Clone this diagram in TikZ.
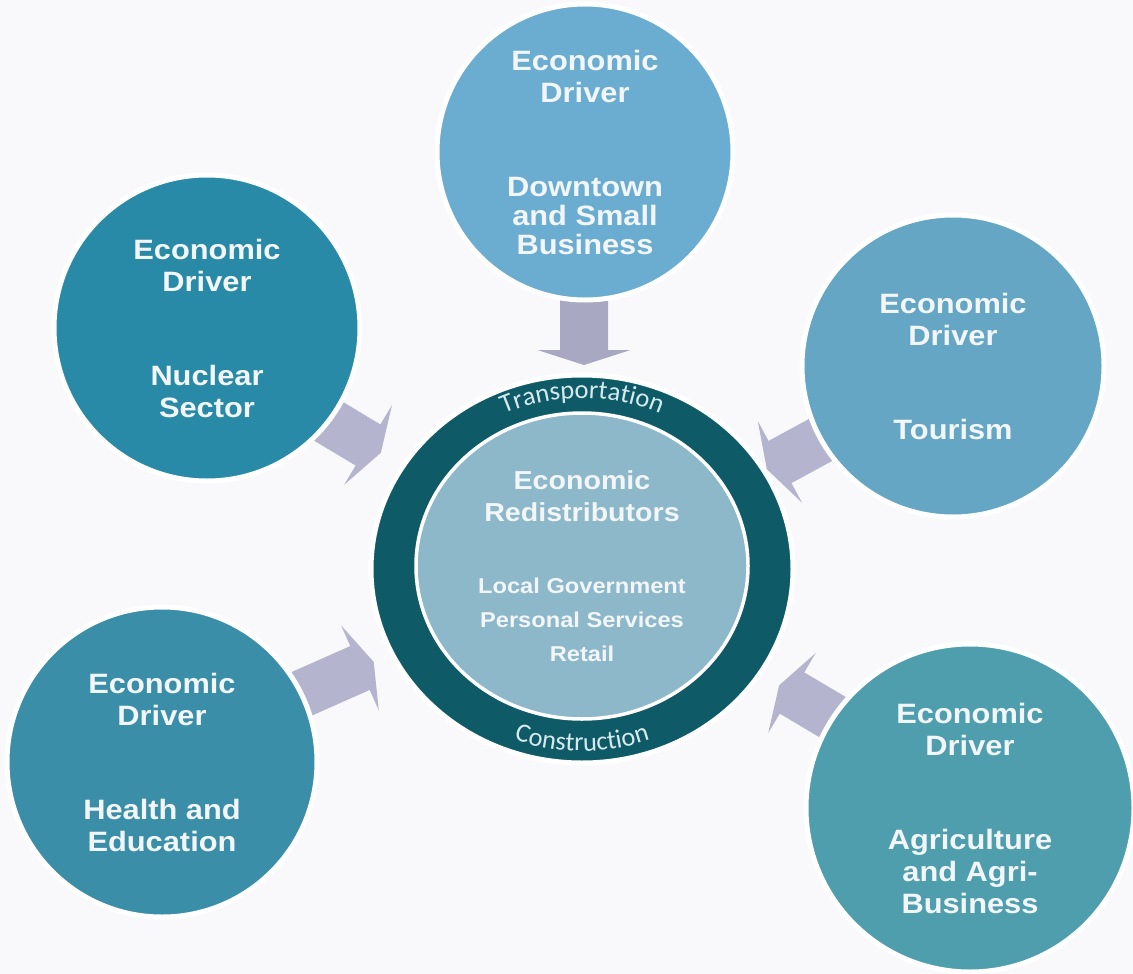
\documentclass[tikz,border=0pt]{standalone}
\usepackage{fontspec}
\setmainfont{Liberation Sans}
\newfontfamily\drvfont{Liberation Sans}[FakeStretch=1.1]
\newfontfamily\ringfont{Carlito}
\usetikzlibrary{shapes.geometric,decorations.text}
\definecolor{bgc}{HTML}{F9F9FB}
\definecolor{txtc}{HTML}{F3F6F8}
\definecolor{ctop}{HTML}{6BADD0}
\definecolor{cnuc}{HTML}{288AA6}
\definecolor{ctour}{HTML}{64A6C4}
\definecolor{cheal}{HTML}{3A8EA8}
\definecolor{cagri}{HTML}{4E9EAE}
\definecolor{ringc}{HTML}{0E5A66}
\definecolor{innerc}{HTML}{8CB8CA}
\definecolor{ringtxt}{HTML}{D6EAEE}
\definecolor{arrowc}{HTML}{B4B4CE}
\definecolor{arrowtop}{HTML}{A8A8C2}
\begin{document}
\begin{tikzpicture}[x=1pt,y=-1pt,
  driver/.style={circle, draw=white, line width=5pt, text=txtc, align=center,
    inner sep=0pt, font=\drvfont\bfseries\fontsize{28}{32}\selectfont},
  blockarrow/.pic={\fill[pic actions] (-80,-24) -- (0,-24) -- (0,-46.5) -- (15,0)
    -- (0,46.5) -- (0,24) -- (-80,24) -- cycle;}]
\useasboundingbox (0,0) rectangle (1133,974);
\fill[bgc] (0,0) rectangle (1133,974);
% arrows
\pic[rotate=-90, fill=arrowtop] at (584,350) {blockarrow};
\pic[rotate=-31, fill=arrowc] at (368,445) {blockarrow};
\pic[rotate=-151.5, fill=arrowc] at (780,462) {blockarrow};
\pic[rotate=23.9, fill=arrowc] at (360,668) {blockarrow};
\pic[rotate=-210.7, fill=arrowc] at (792,693) {blockarrow};
% driver circles
\node[driver, fill=ctop, minimum size=296pt] (top) at (585,152)
  {Economic\\Driver\\[62pt]Downtown\\[-3pt]and Small\\[-3pt]Business};
\node[driver, fill=cnuc, minimum size=306pt] (nuc) at (207,328)
  {Economic\\Driver\\[62pt]Nuclear\\Sector};
\node[driver, fill=ctour, minimum size=302pt] (tour) at (953,366)
  {Economic\\Driver\\[62pt]Tourism};
\node[driver, fill=cheal, minimum size=310pt] (health) at (162,762)
  {Economic\\Driver\\[62pt]Health and\\Education};
\node[driver, fill=cagri, minimum size=328pt] (agri) at (970,808)
  {Economic\\Driver\\[62pt]Agriculture\\and Agri-\\Business};
% central ring
\node[ellipse, fill=ringc, draw=white, line width=5pt, minimum width=422pt,
  minimum height=388pt, inner sep=0pt] (ring) at (582,569) {};
\node[ellipse, fill=innerc, draw=white, line width=3.5pt, minimum width=332pt,
  minimum height=306pt, inner sep=0pt, text=txtc, align=center,
  font=\drvfont\bfseries\fontsize{26}{32}\selectfont] (inner) at (582,566)
  {Economic\\Redistributors\\[40pt]{\fontsize{21.5}{34}\selectfont Local Government}\\[2pt]{\fontsize{21.5}{34}\selectfont Personal Services}\\[2pt]{\fontsize{21.5}{34}\selectfont Retail}};
\path[decorate, decoration={text along path, text align=center,
  text={|\ringfont\fontsize{26.5}{27}\selectfont\color{ringtxt}|Transportation}}]
  (ring.center) ++(215:185 and 171) arc[start angle=215, end angle=325, x radius=185, y radius=171];
\path[decorate, decoration={text along path, text align=center,
  text={|\ringfont\fontsize{26.5}{27}\selectfont\color{ringtxt}|Construction}}]
  (ring.center) ++(145:197 and 182) arc[start angle=145, end angle=35, x radius=197, y radius=182];
\end{tikzpicture}
\end{document}
